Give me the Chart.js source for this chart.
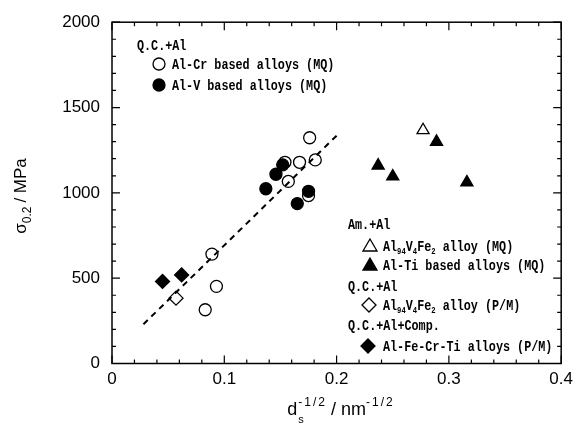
<!DOCTYPE html>
<html>
<head>
<meta charset="utf-8">
<script src="https://cdn.jsdelivr.net/npm/chart.js@4.4.0/dist/chart.umd.min.js"></script>
<style>
  html, body { margin: 0; padding: 0; background: #fff; }
  #wrap { width: 579px; height: 430px; }
</style>
</head>
<body>
<div id="wrap"><canvas id="chart"></canvas></div>
<script>
// Q.C. + Al, Al-Cr based alloys (MQ) - open circles
const alCrX = [0.176, 0.154, 0.167, 0.181, 0.157, 0.175, 0.089, 0.093, 0.083];
const alCrY = [1323, 1179, 1179, 1193, 1067, 984, 641, 452, 315];
// Q.C. + Al, Al-V based alloys (MQ) - filled circles
const alVX = [0.152, 0.146, 0.137, 0.175, 0.165];
const alVY = [1164, 1109, 1024, 1009, 937];
// Am. + Al, Al94V4Fe2 alloy (MQ) - open triangle
const amVFeX = [0.277];
const amVFeY = [1367];
// Am. + Al, Al-Ti based alloys (MQ) - filled triangles
const alTiX = [0.289, 0.237, 0.250, 0.316];
const alTiY = [1299, 1160, 1096, 1061];
// Q.C. + Al, Al94V4Fe2 alloy (P/M) - open diamond
const qcVFeX = [0.057];
const qcVFeY = [383];
// Q.C. + Al + Comp., Al-Fe-Cr-Ti alloys (P/M) - filled diamonds
const alFeCrTiX = [0.045, 0.062];
const alFeCrTiY = [481, 519];
// dashed fit line
const fitX = [0.028, 0.2];
const fitY = [230, 1335];

const xTicks = [0, 0.1, 0.2, 0.3, 0.4];
const yTicks = [0, 500, 1000, 1500, 2000];

const pts = (xs, ys) => xs.map((x, i) => ({ x: x, y: ys[i] }));

const TICK_FONT = '"Liberation Sans", Arial, sans-serif';
const LEG_FONT = '"Liberation Mono", "DejaVu Sans Mono", monospace';

// text runs with own size, baseline shift, spacing and horizontal squeeze
function setFont(ctx, p) {
  ctx.font = (p.bold ? 'bold ' : '') + p.size + 'px ' + p.family;
  ctx.letterSpacing = (p.ls || 0) + 'px';
}
function pieceWidth(ctx, p) {
  setFont(ctx, p);
  return ctx.measureText(p.t).width * (p.sx || 1) + (p.gap || 0);
}
function richWidth(ctx, parts) {
  return parts.reduce((w, p) => w + (p.stay ? 0 : pieceWidth(ctx, p)), 0);
}
function drawRich(ctx, parts, x, y) {
  let cx = x;
  parts.forEach(p => {
    setFont(ctx, p);
    ctx.save();
    ctx.translate(cx, y + (p.dy || 0));
    ctx.scale(p.sx || 1, 1);
    ctx.fillText(p.t, 0, 0);
    ctx.restore();
    if (!p.stay) cx += pieceWidth(ctx, p);
  });
  ctx.letterSpacing = '0px';
  return cx;
}

function marker(ctx, kind, filled, x, y) {
  ctx.beginPath();
  if (kind === 'circle') {
    ctx.arc(x, y, 6, 0, Math.PI * 2);
  } else if (kind === 'tri') {
    ctx.moveTo(x, y - 7);
    ctx.lineTo(x + 7, y + 5);
    ctx.lineTo(x - 7, y + 5);
    ctx.closePath();
  } else {
    ctx.moveTo(x, y - 7);
    ctx.lineTo(x + 7, y);
    ctx.lineTo(x, y + 7);
    ctx.lineTo(x - 7, y);
    ctx.closePath();
  }
  ctx.lineWidth = 1.3;
  ctx.strokeStyle = '#000';
  if (filled) { ctx.fillStyle = '#000'; ctx.fill(); }
  ctx.stroke();
}

const framePlugin = {
  id: 'frame',
  afterDraw(chart) {
    const ctx = chart.ctx;
    const a = chart.chartArea;
    const xs = chart.scales.x, ys = chart.scales.y;
    ctx.save();
    ctx.strokeStyle = '#000';
    ctx.lineWidth = 1.5;
    ctx.strokeRect(a.left, a.top, a.right - a.left, a.bottom - a.top);

    // inward ticks on all four sides
    ctx.lineWidth = 1.2;
    ctx.beginPath();
    for (let v = 0; v <= 2000.01; v += 100) {
      const py = ys.getPixelForValue(v);
      const len = (Math.round(v) % 500 === 0) ? 8 : 4;
      ctx.moveTo(a.left, py); ctx.lineTo(a.left + len, py);
      ctx.moveTo(a.right, py); ctx.lineTo(a.right - len, py);
    }
    for (let i = 0; i <= 20; i++) {
      const px = xs.getPixelForValue(i * 0.02);
      const len = (i % 5 === 0) ? 8 : 4;
      ctx.moveTo(px, a.bottom); ctx.lineTo(px, a.bottom - len);
      ctx.moveTo(px, a.top); ctx.lineTo(px, a.top + len);
    }
    ctx.stroke();

    ctx.fillStyle = '#000';
    ctx.textBaseline = 'alphabetic';
    ctx.textAlign = 'left';

    // y axis title
    const yParts = [
      { t: 'σ', size: 17, family: TICK_FONT },
      { t: '0.2', size: 12, family: TICK_FONT, dy: 5, gap: 4 },
      { t: '/ MPa', size: 17, family: TICK_FONT }
    ];
    ctx.save();
    ctx.translate(26, 196);
    ctx.rotate(-Math.PI / 2);
    drawRich(ctx, yParts, -richWidth(ctx, yParts) / 2, 0);
    ctx.restore();

    // x axis title
    const xParts = [
      { t: 'd', size: 18, family: TICK_FONT, gap: 1 },
      { t: 's', size: 11, family: TICK_FONT, dy: 8, stay: true },
      { t: '-1/2', size: 12, family: TICK_FONT, dy: -9, ls: 2, gap: 4 },
      { t: '/ nm', size: 18, family: TICK_FONT },
      { t: '-1/2', size: 12, family: TICK_FONT, dy: -9, ls: 2 }
    ];
    drawRich(ctx, xParts, 341 - richWidth(ctx, xParts) / 2, 415);

    // legend blocks
    const f = { size: 14, family: LEG_FONT, bold: true, sx: 0.84 };
    const txt = t => Object.assign({ t: t }, f);
    const sub = t => ({ t: t, size: 9, family: LEG_FONT, bold: true, dy: 3, sx: 0.8 });
    const vfe = tail => [txt('Al'), sub('94'), txt('V'), sub('4'), txt('Fe'), sub('2'), txt(tail)];

    drawRich(ctx, [txt('Q.C.+Al')], 137, 50);
    marker(ctx, 'circle', false, 159, 64);
    drawRich(ctx, [txt('Al-Cr based alloys (MQ)')], 172, 69);
    marker(ctx, 'circle', true, 159, 85);
    drawRich(ctx, [txt('Al-V based alloys (MQ)')], 172, 90);

    drawRich(ctx, [txt('Am.+Al')], 348, 229);
    marker(ctx, 'tri', false, 370, 246);
    drawRich(ctx, vfe(' alloy (MQ)'), 383, 251);
    marker(ctx, 'tri', true, 370, 265);
    drawRich(ctx, [txt('Al-Ti based alloys (MQ)')], 383, 270);
    drawRich(ctx, [txt('Q.C.+Al')], 348, 291);
    marker(ctx, 'diamond', false, 369, 305);
    drawRich(ctx, vfe(' alloy (P/M)'), 383, 310);
    drawRich(ctx, [txt('Q.C.+Al+Comp.')], 348, 330);
    marker(ctx, 'diamond', true, 368, 346);
    drawRich(ctx, [txt('Al-Fe-Cr-Ti alloys (P/M)')], 383, 351);
    ctx.restore();
  }
};

const open = { backgroundColor: 'rgba(0,0,0,0)', borderColor: '#000', borderWidth: 1.3 };
const solid = { backgroundColor: '#000', borderColor: '#000', borderWidth: 1.3 };

new Chart(document.getElementById('chart'), {
  type: 'scatter',
  data: {
    datasets: [
      Object.assign({ label: 'Al-Cr based alloys (MQ)', data: pts(alCrX, alCrY), pointStyle: 'circle', pointRadius: 6 }, open),
      Object.assign({ label: 'Al-V based alloys (MQ)', data: pts(alVX, alVY), pointStyle: 'circle', pointRadius: 6 }, solid),
      Object.assign({ label: 'Am. Al94V4Fe2 alloy (MQ)', data: pts(amVFeX, amVFeY), pointStyle: 'triangle', pointRadius: 7 }, open),
      Object.assign({ label: 'Al-Ti based alloys (MQ)', data: pts(alTiX, alTiY), pointStyle: 'triangle', pointRadius: 7 }, solid),
      Object.assign({ label: 'Q.C. Al94V4Fe2 alloy (P/M)', data: pts(qcVFeX, qcVFeY), pointStyle: 'rectRot', pointRadius: 7 }, open),
      Object.assign({ label: 'Al-Fe-Cr-Ti alloys (P/M)', data: pts(alFeCrTiX, alFeCrTiY), pointStyle: 'rectRot', pointRadius: 7 }, solid),
      {
        type: 'line',
        label: 'fit',
        data: pts(fitX, fitY),
        borderColor: '#000',
        borderWidth: 2,
        borderDash: [6, 5],
        pointRadius: 0,
        fill: false
      }
    ]
  },
  options: {
    responsive: true,
    maintainAspectRatio: false,
    animation: false,
    layout: { padding: { top: 19, right: 13, left: 0, bottom: 0 } },
    plugins: { legend: { display: false }, tooltip: { enabled: false } },
    scales: {
      x: {
        type: 'linear',
        min: 0, max: 0.4,
        afterFit: s => { s.height = 66.5; },
        afterBuildTicks: s => { s.ticks = xTicks.map(v => ({ value: v })); },
        grid: { display: false, drawTicks: false },
        border: { display: false },
        ticks: {
          padding: 6,
          color: '#000',
          font: { family: TICK_FONT, size: 17 },
          callback: v => v === 0 ? '0' : v.toFixed(1)
        }
      },
      y: {
        type: 'linear',
        min: 0, max: 2000,
        afterFit: s => { s.width = 112; },
        afterBuildTicks: s => { s.ticks = yTicks.map(v => ({ value: v })); },
        grid: { display: false, drawTicks: false },
        border: { display: false },
        ticks: {
          padding: 12,
          color: '#000',
          font: { family: TICK_FONT, size: 17 },
          callback: v => String(v)
        }
      }
    }
  },
  plugins: [framePlugin]
});
</script>
</body>
</html>
